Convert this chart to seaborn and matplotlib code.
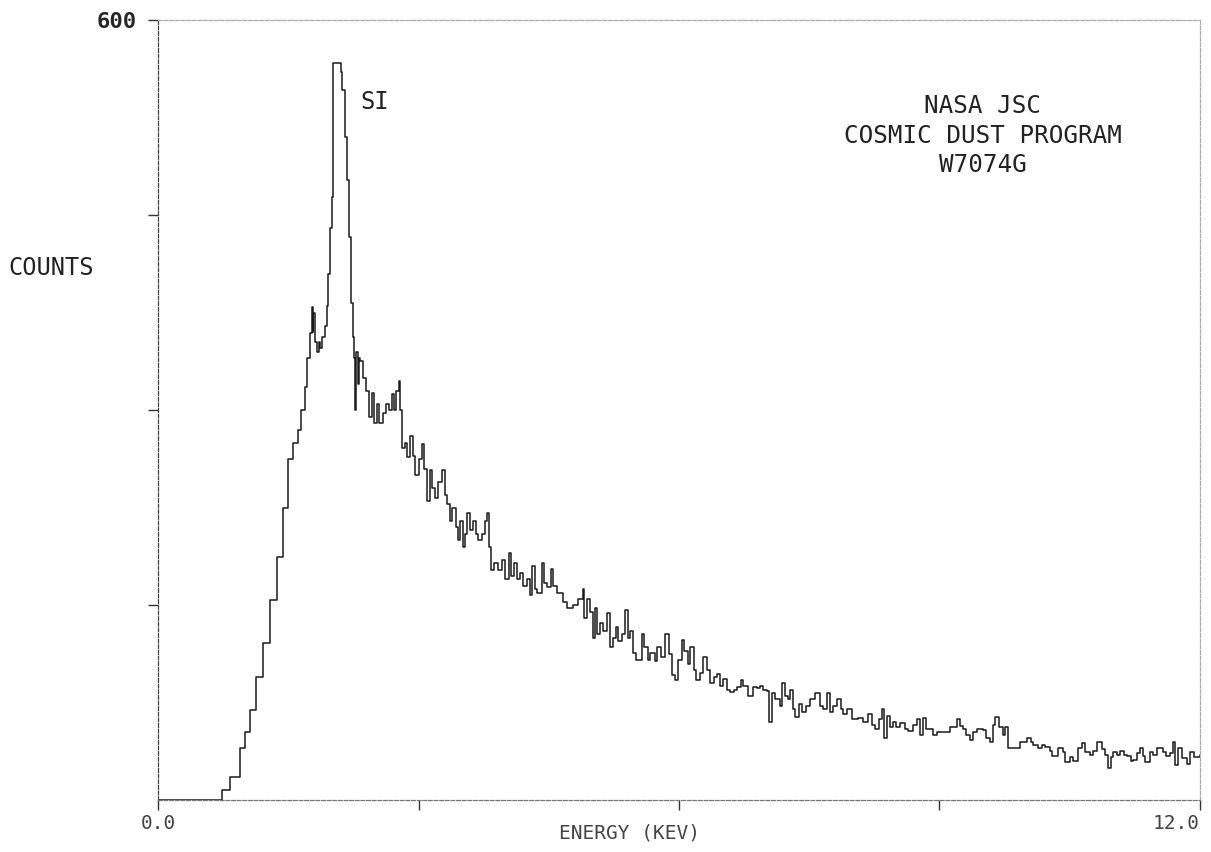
import matplotlib
matplotlib.use("Agg")
import matplotlib.pyplot as plt
import seaborn as sns
import pandas as pd

energia = [0.00, 0.69, 0.74, 0.83, 0.94, 1.00, 1.06, 1.13, 1.21, 1.29, 1.37, 1.44, 1.50, 1.55,
           1.61, 1.65, 1.69, 1.72, 1.75, 1.77, 1.78, 1.79, 1.81, 1.83, 1.85, 1.87, 1.89, 1.92,
           1.95, 1.96, 1.98, 2.00, 2.01, 2.11, 2.12, 2.15, 2.18, 2.20, 2.22, 2.24, 2.26, 2.27,
           2.28, 2.30, 2.31, 2.33, 2.36, 2.40, 2.43, 2.46, 2.49, 2.52, 2.55, 2.59, 2.62, 2.66,
           2.69, 2.72, 2.74, 2.77, 2.79, 2.81, 2.84, 2.87, 2.90, 2.94, 2.96, 3.00, 3.04, 3.06,
           3.10, 3.13, 3.16, 3.19, 3.23, 3.27, 3.30, 3.33, 3.36, 3.39, 3.43, 3.46, 3.48, 3.51,
           3.54, 3.56, 3.59, 3.63, 3.66, 3.69, 3.73, 3.76, 3.79, 3.81, 3.84, 3.87, 3.92, 3.96,
           4.00, 4.04, 4.07, 4.10, 4.13, 4.17, 4.20, 4.25, 4.28, 4.31, 4.34, 4.37, 4.42, 4.45,
           4.48, 4.52, 4.55, 4.60, 4.66, 4.71, 4.78, 4.84, 4.89, 4.91, 4.94, 4.98, 5.01, 5.03,
           5.06, 5.09, 5.12, 5.17, 5.20, 5.24, 5.27, 5.30, 5.34, 5.38, 5.41, 5.44, 5.47, 5.51,
           5.57, 5.60, 5.64, 5.67, 5.72, 5.75, 5.79, 5.84, 5.88, 5.92, 5.95, 5.99, 6.03, 6.06,
           6.10, 6.13, 6.17, 6.20, 6.24, 6.28, 6.32, 6.36, 6.40, 6.44, 6.47, 6.51, 6.55, 6.59,
           6.63, 6.67, 6.71, 6.74, 6.79, 6.85, 6.90, 6.93, 6.97, 7.01, 7.04, 7.07, 7.11, 7.16,
           7.19, 7.22, 7.25, 7.28, 7.31, 7.34, 7.38, 7.42, 7.46, 7.51, 7.57, 7.62, 7.66, 7.70,
           7.74, 7.77, 7.82, 7.86, 7.89, 7.94, 7.99, 8.06, 8.12, 8.18, 8.22, 8.26, 8.30, 8.34,
           8.36, 8.40, 8.43, 8.46, 8.50, 8.55, 8.60, 8.64, 8.70, 8.74, 8.77, 8.81, 8.85, 8.89,
           8.93, 8.97, 9.04, 9.12, 9.20, 9.24, 9.27, 9.31, 9.35, 9.39, 9.43, 9.50, 9.54, 9.58,
           9.62, 9.64, 9.68, 9.73, 9.76, 9.79, 9.87, 9.93, 10.01, 10.05, 10.08, 10.13, 10.18,
           10.22, 10.27, 10.30, 10.37, 10.42, 10.45, 10.50, 10.54, 10.60, 10.64, 10.68, 10.73,
           10.77, 10.81, 10.87, 10.91, 10.94, 10.97, 11.00, 11.04, 11.08, 11.12, 11.16, 11.20,
           11.23, 11.27, 11.31, 11.34, 11.37, 11.42, 11.46, 11.51, 11.57, 11.61, 11.65, 11.69,
           11.71, 11.75, 11.79, 11.85, 11.89, 11.93, 11.97, 12.00]

contagens = [0, 0, 8, 18, 40, 52, 69, 95, 121, 154, 187, 225, 262, 275,
             285, 300, 318, 340, 359, 379, 360, 375, 352, 345, 352, 348, 356, 365,
             380, 405, 440, 464, 567, 560, 546, 510, 477, 433, 382, 356, 340, 300,
             345, 320, 340, 338, 325, 315, 295, 313, 290, 305, 290, 298, 305, 300,
             312, 300, 315, 322, 300, 271, 275, 264, 280, 265, 250, 262, 274, 255,
             230, 254, 240, 232, 245, 254, 235, 228, 215, 225, 210, 200, 215, 195,
             205, 221, 208, 215, 205, 200, 205, 215, 221, 195, 177, 182, 177, 185,
             170, 190, 172, 182, 170, 175, 165, 170, 158, 180, 162, 159, 182, 167,
             164, 178, 165, 159, 152, 148, 150, 155, 162, 140, 155, 145, 125, 148,
             128, 136, 130, 144, 118, 125, 133, 122, 128, 146, 125, 130, 113, 108,
             128, 118, 108, 113, 107, 118, 110, 128, 112, 96, 92, 108, 123, 115,
             105, 118, 100, 92, 98, 110, 100, 90, 95, 97, 88, 93, 85, 83,
             85, 87, 92, 88, 80, 87, 86, 88, 85, 84, 60, 82, 78, 72,
             90, 80, 78, 85, 70, 64, 74, 68, 72, 78, 82, 72, 70, 82,
             68, 72, 78, 70, 66, 70, 62, 63, 60, 66, 58, 55, 62, 70,
             48, 65, 56, 60, 56, 59, 55, 53, 58, 62, 50, 63, 55, 55,
             50, 52, 52, 56, 62, 57, 55, 50, 46, 52, 55, 54, 48, 45,
             58, 64, 56, 50, 56, 40, 40, 45, 48, 45, 42, 40, 42,
             41, 38, 34, 40, 37, 29, 33, 30, 40, 44, 37, 35,
             38, 45, 39, 35, 25, 33, 37, 35, 38, 35, 34, 30,
             31, 36, 40, 34, 29, 37, 35, 40, 37, 34, 36, 45,
             27, 40, 32, 28, 37, 33, 33, 35]

df = pd.DataFrame({'energia': energia, 'contagens': contagens})

sns.set_style('white')
plt.rcParams['font.family'] = ['DejaVu Sans Mono', 'DejaVu Sans']

fig = plt.figure(figsize=(12.11, 8.52), dpi=100)
ax = fig.add_axes([0.1305, 0.061, 0.8604, 0.9155])

sns.lineplot(data=df, x='energia', y='contagens', ax=ax, estimator=None, sort=False,
             drawstyle='steps-post', color='#1a1a1a', linewidth=1.1)

ax.set_xlim(0, 12)
ax.set_ylim(0, 600)

ax.set_xticks([0, 3, 6, 9, 12])
ax.set_xticklabels(['0.0', '', '', '', '12.0'], fontsize=14, color='#444')
ax.get_xticklabels()[-1].set_ha('right')
ax.set_yticks([150, 300, 450, 600])
ax.set_yticklabels(['', '', '', '600'], fontsize=16, fontweight='bold')
ax.tick_params(axis='both', direction='out', length=7, width=1.0, color='#333',
               bottom=True, left=True)
ax.tick_params(axis='x', pad=3)
ax.tick_params(axis='y', pad=8)

ax.set_xlabel('')
ax.set_ylabel('')
fig.text(0.520, 0.022, 'ENERGY (KEV)', fontsize=14, ha='center', va='center', color='#444')
fig.text(0.007, 0.685, 'COUNTS', fontsize=17, ha='left', va='center', color='#222')

for lado, cor in [('left', '#444'), ('bottom', '#777'), ('top', '#aaa'), ('right', '#aaa')]:
    ax.spines[lado].set_color(cor)
    ax.spines[lado].set_linewidth(0.9)
    ax.spines[lado].set_linestyle((0, (3, 1.5)))

ax.text(2.50, 537, 'SI', fontsize=17, ha='center', va='center', color='#222')
ax.text(9.5, 511, 'NASA JSC\nCOSMIC DUST PROGRAM\nW7074G', fontsize=17.5, ha='center',
        va='center', color='#222', linespacing=1.28)

fig.savefig('out.png', dpi=100)
